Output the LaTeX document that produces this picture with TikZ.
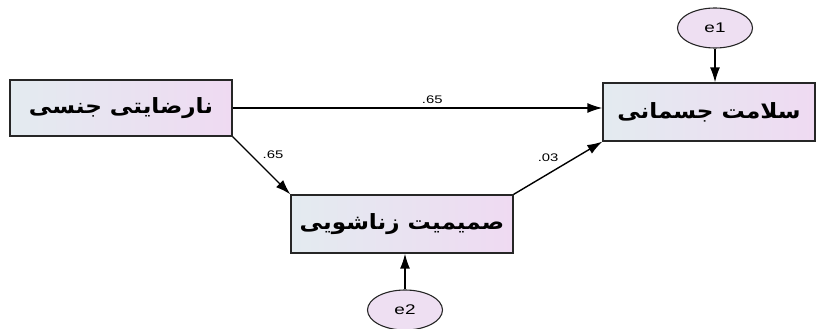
\documentclass[tikz,border=0pt]{standalone}
\usepackage{fontspec}
\setmainfont{Liberation Sans}
\newfontfamily\farsifont[Script=Arabic,FakeStretch=1.1]{DejaVu Sans}
\newfontfamily\widefont[FakeStretch=1.35]{Liberation Sans}
\TeXXeTstate=1
\usetikzlibrary{arrows.meta,shapes.geometric}

\definecolor{boxleft}{HTML}{E3EBF0}
\definecolor{boxright}{HTML}{EFDAF2}
\definecolor{errfill}{HTML}{EEDFF2}

\tikzset{
  varbox/.style={draw=black!85, line width=1.3pt, minimum width=222pt, minimum height=56pt,
    left color=boxleft, right color=boxright, font=\farsifont\bfseries\fontsize{21}{25}\selectfont},
  errnode/.style={draw=black!85, line width=1.1pt, ellipse, minimum width=75pt, minimum height=40pt,
    fill=errfill, font=\widefont\fontsize{14}{16}\selectfont},
  arrowline/.style={line width=1.4pt, -{Latex[length=15pt,width=10pt]}},
  coef/.style={font=\widefont\fontsize{11}{13}\selectfont}
}

\begin{document}
\begin{tikzpicture}[x=1pt,y=-1pt]
  \useasboundingbox (0,0) rectangle (817,329);

	\node[varbox] at (121,108) (nar) {\beginR نارضایتی جنسی\endR};
	\node[varbox, minimum width=212pt, minimum height=58pt] at (709,112) (sal) {\beginR سلامت جسمانی\endR};
	\node[varbox, minimum height=58pt] at (402,224) (sam) {\beginR صمیمیت زناشویی\endR};

	\node[errnode] at (715,28) (e1) {e1};
	\node[errnode] at (405,310) (e2) {e2};

	\draw[arrowline] (nar.east) -- node[coef, pos=0.54, above] {.65} (nar.east -| sal.west);
	\draw[arrowline] (nar.south east) -- node[coef, above right, pos=0.45] {.65} (sam.north west);
	\draw[arrowline] (sam.north east) -- node[coef, above left, pos=0.55] {.03} (sal.south west);

	\draw[arrowline] (e1) -- (e1 |- sal.north);
	\draw[arrowline] (e2) -- (e2 |- sam.south);

\end{tikzpicture}
\end{document}
